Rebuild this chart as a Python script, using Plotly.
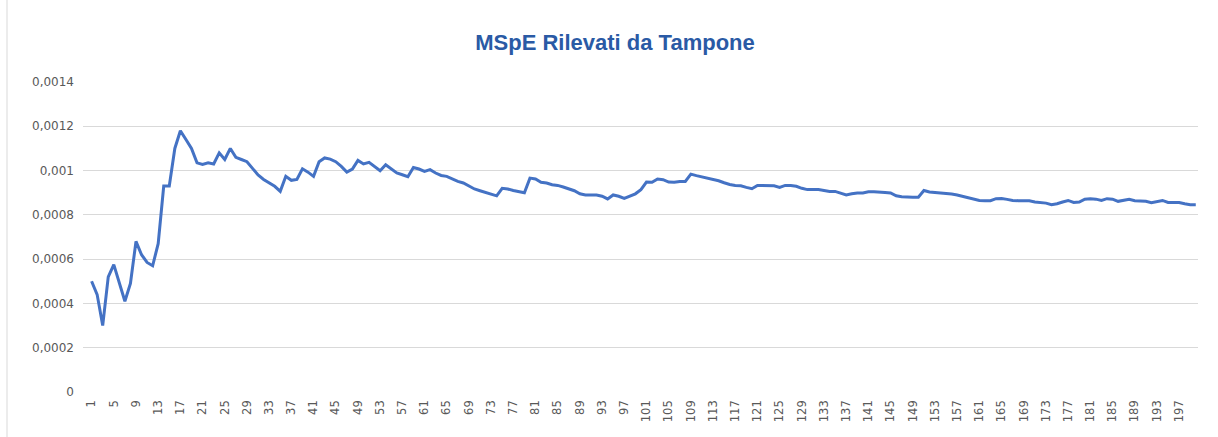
import plotly.graph_objects as go

# Sample index (1..200)
categories = list(range(1, 201))

# MSpE values
mspe = [
    0.00050, 0.00044, 0.00030, 0.00052, 0.000575, 0.00049, 0.00041, 0.00049, 0.00068, 0.00062,
    0.000585, 0.00057, 0.00067, 0.00093, 0.00093, 0.00110, 0.00118, 0.00114, 0.00110, 0.001035,
    0.001028, 0.001035, 0.00103, 0.00108, 0.00105, 0.00110, 0.00106, 0.00105, 0.00104, 0.00101,
    0.00098, 0.00096, 0.000944, 0.000929, 0.000906, 0.000974, 0.000956, 0.00096, 0.001008, 0.000993,
    0.000974, 0.00104, 0.001057, 0.001052, 0.00104, 0.001019, 0.000993, 0.001007, 0.001046, 0.00103,
    0.001037, 0.001019, 0.000999, 0.001026, 0.001008, 0.000989, 0.000981, 0.000972, 0.001014, 0.001007,
    0.000996, 0.001004, 0.000989, 0.000978, 0.000974, 0.000962, 0.000951, 0.000944, 0.000929, 0.000917,
    0.000909, 0.000901, 0.000892, 0.000886, 0.00092, 0.000917, 0.00091, 0.000906, 0.0009, 0.000966,
    0.000962, 0.000947, 0.000944, 0.000936, 0.000933, 0.000926, 0.000917, 0.000909, 0.000895, 0.00089,
    0.00089, 0.00089, 0.000884, 0.000872, 0.00089, 0.000884, 0.000874, 0.000886, 0.000895, 0.000914,
    0.000948, 0.000947, 0.000962, 0.000959, 0.000948, 0.000947, 0.000951, 0.000951, 0.000984, 0.000977,
    0.000971, 0.000966, 0.000962, 0.000954, 0.000945, 0.000937, 0.000933, 0.000931, 0.000924, 0.000918,
    0.000933, 0.000933, 0.000933, 0.000931, 0.000924, 0.000933, 0.000933, 0.000929, 0.00092, 0.000914,
    0.000914, 0.000914, 0.00091, 0.000906, 0.000906, 0.000899, 0.00089, 0.000895, 0.000899, 0.000899,
    0.000904, 0.000904, 0.000901, 0.000901, 0.000899, 0.000886, 0.000882, 0.00088, 0.00088, 0.00088,
    0.00091, 0.000903, 0.000901, 0.000901, 0.000899, 0.000894, 0.00089, 0.000883, 0.000876, 0.000871,
    0.000865, 0.000864, 0.000864, 0.000873, 0.000874, 0.00087, 0.000865, 0.000864, 0.000864, 0.000864,
    0.000858, 0.000856, 0.000853, 0.000846, 0.00085, 0.000858, 0.000865, 0.000856, 0.000858, 0.000871,
    0.000873, 0.000871, 0.000865, 0.000873, 0.000871, 0.000861, 0.000866, 0.00087, 0.000864, 0.000864,
    0.000861, 0.000855, 0.00086, 0.000865, 0.000856, 0.000856, 0.000856, 0.00085, 0.000846, 0.000846,
]

x_tick_vals = list(range(1, 201, 4))
x_tick_text = [str(v) for v in x_tick_vals]
y_tick_vals = [0, 0.0002, 0.0004, 0.0006, 0.0008, 0.001, 0.0012, 0.0014]
y_tick_text = ["0", "0,0002", "0,0004", "0,0006", "0,0008", "0,001", "0,0012", "0,0014"]

fig = go.Figure()
fig.add_trace(go.Scatter(
    x=categories, y=mspe, mode="lines",
    line=dict(color="#4472C4", width=3),
    hoverinfo="skip", showlegend=False,
))

W, H = 1218, 437
L, R, T, B = 83, 20, 82, 45
pw, ph = W - L - R, H - T - B

def px_x(p):
    return (p - L) / pw

def px_y(p):
    return (H - B - p) / ph

fig.update_layout(
    width=W, height=H,
    margin=dict(l=L, r=R, t=T, b=B, autoexpand=False),
    paper_bgcolor="white", plot_bgcolor="white",
    title=dict(
        text="<b>MSpE Rilevati da Tampone</b>",
        x=615 / W, xanchor="center", y=1 - 42 / H, yanchor="middle",
        font=dict(family="Liberation Sans", size=22, color="#2A5AA5"),
    ),
    xaxis=dict(
        range=[-0.55, 200.4],
        tickmode="array", tickvals=x_tick_vals, ticktext=x_tick_text,
        tickangle=-90, showgrid=False, zeroline=False,
        showline=False, ticks="", automargin=False,
        ticklabelstandoff=5,
        tickfont=dict(family="DejaVu Sans", size=11.5, color="#595959"),
    ),
    yaxis=dict(
        range=[0, 0.0014],
        tickmode="array", tickvals=y_tick_vals, ticktext=y_tick_text,
        showgrid=True, gridcolor="#D9D9D9", gridwidth=1,
        zeroline=False, showline=False, ticks="", automargin=False,
        ticklabelstandoff=8,
        tickfont=dict(family="DejaVu Sans", size=12, color="#595959"),
    ),
    shapes=[
        dict(type="line", xref="paper", yref="paper",
             x0=px_x(7), x1=px_x(7), y0=px_y(437), y1=px_y(0),
             line=dict(color="#D9D9D9", width=1), layer="below"),
    ],
)

fig.write_html("out.html", config={"displayModeBar": False},
               post_script="document.body.style.margin='0';")
